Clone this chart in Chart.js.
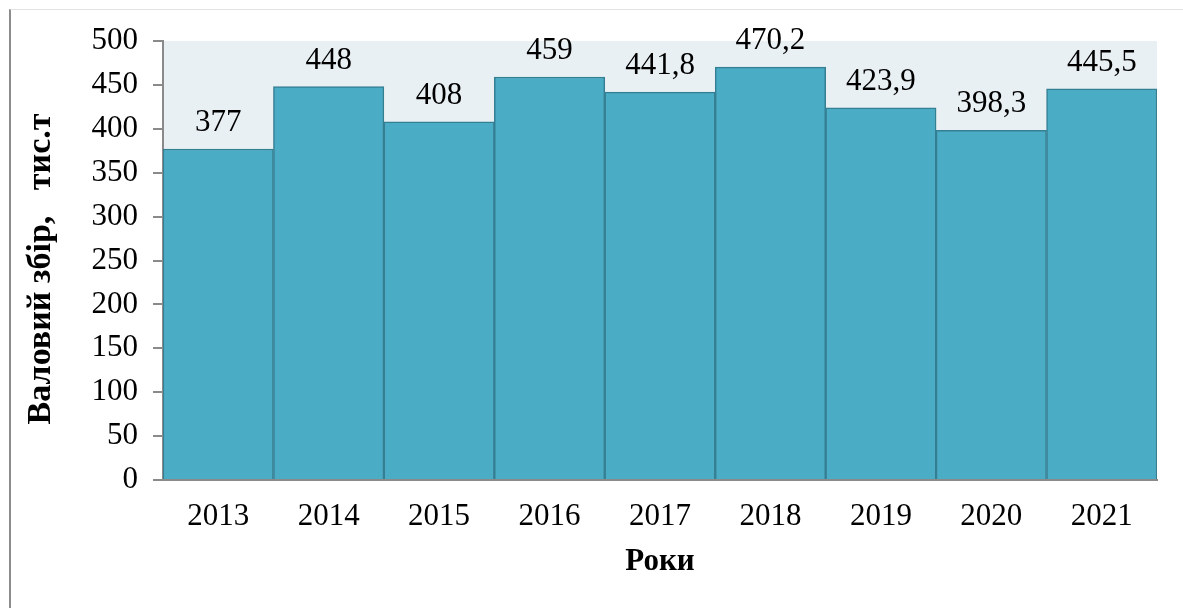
<!DOCTYPE html>
<html>
<head>
<meta charset="utf-8">
<script src="https://cdn.jsdelivr.net/npm/chart.js@4"></script>
<style>
    body { margin: 0; background: #fff; }
    #wrap { position: relative; width: 1183px; height: 608px; }
    #frame { position: absolute; left: 9px; top: 9px; right: 0; bottom: 0;
             border-left: 2px solid #8c8c8c; border-top: 1px solid #e2e2e2; }
    canvas { position: absolute; left: 0; top: 0; }
</style>
</head>
<body>
<div id="wrap">
    <div id="frame"></div>
    <canvas id="harvestChart" width="1183" height="608"></canvas>
</div>
<script>
var years = ['2013', '2014', '2015', '2016', '2017', '2018', '2019', '2020', '2021'];
var harvest = [377, 448, 408, 459, 441.8, 470.2, 423.9, 398.3, 445.5];
var yTitle = 'Валовий збір,   тис.т  ';
var xTitle = 'Роки';

var serif = 'Liberation Serif, Times New Roman, serif';

// plot area fill
var plotBg = {
    id: 'plotBg',
    beforeDraw: function(chart) {
        var a = chart.chartArea, c = chart.ctx;
        c.save();
        c.fillStyle = '#e9f0f4';
        c.fillRect(a.left, a.top, a.right - a.left, a.bottom - a.top);
        c.restore();
    }
};

// value labels above bars
var valueLabels = {
    id: 'valueLabels',
    afterDatasetsDraw: function(chart) {
        var c = chart.ctx;
        var meta = chart.getDatasetMeta(0);
        c.save();
        c.font = '31px ' + serif;
        c.fillStyle = '#000';
        c.textAlign = 'center';
        c.textBaseline = 'alphabetic';
        meta.data.forEach(function(bar, i) {
            var txt = String(harvest[i]).replace('.', ',');
            c.fillText(txt, bar.x, bar.y - 18);
        });
        c.restore();
    }
};

window.onload = function() {
    var ctx = document.getElementById('harvestChart').getContext('2d');
    new Chart(ctx, {
        type: 'bar',
        data: {
            labels: years,
            datasets: [{
                data: harvest,
                backgroundColor: '#4bacc6',
                borderColor: '#357f93',
                borderWidth: 1.5,
                categoryPercentage: 1,
                barPercentage: 1
            }]
        },
        options: {
            responsive: false,
            animation: false,
            layout: { padding: { left: 17, right: 26, top: 41, bottom: 23 } },
            scales: {
                x: {
                    afterFit: function(s) { s.height = 105; },
                    ticks: { color: '#000', padding: 18, font: { size: 31, family: serif } },
                    grid: { display: false, drawTicks: false },
                    border: { display: true, color: '#8a8a8a', width: 2 },
                    title: {
                        display: true, text: xTitle, color: '#000',
                        font: { size: 31, family: serif, weight: 'bold' }
                    }
                },
                y: {
                    min: 0,
                    max: 500,
                    afterFit: function(s) { s.width = 146; },
                    ticks: { stepSize: 50, color: '#000', padding: 15, font: { size: 31, family: serif } },
                    grid: { display: true, drawOnChartArea: false, drawTicks: true, tickLength: 10, color: '#8a8a8a', lineWidth: 2 },
                    border: { display: true, color: '#8a8a8a', width: 2 },
                    title: {
                        display: true, text: yTitle, color: '#000',
                        font: { size: 34, family: serif, weight: 'bold' }
                    }
                }
            },
            plugins: {
                legend: { display: false },
                tooltip: { enabled: false }
            }
        },
        plugins: [plotBg, valueLabels]
    });
};
</script>
</body>
</html>
